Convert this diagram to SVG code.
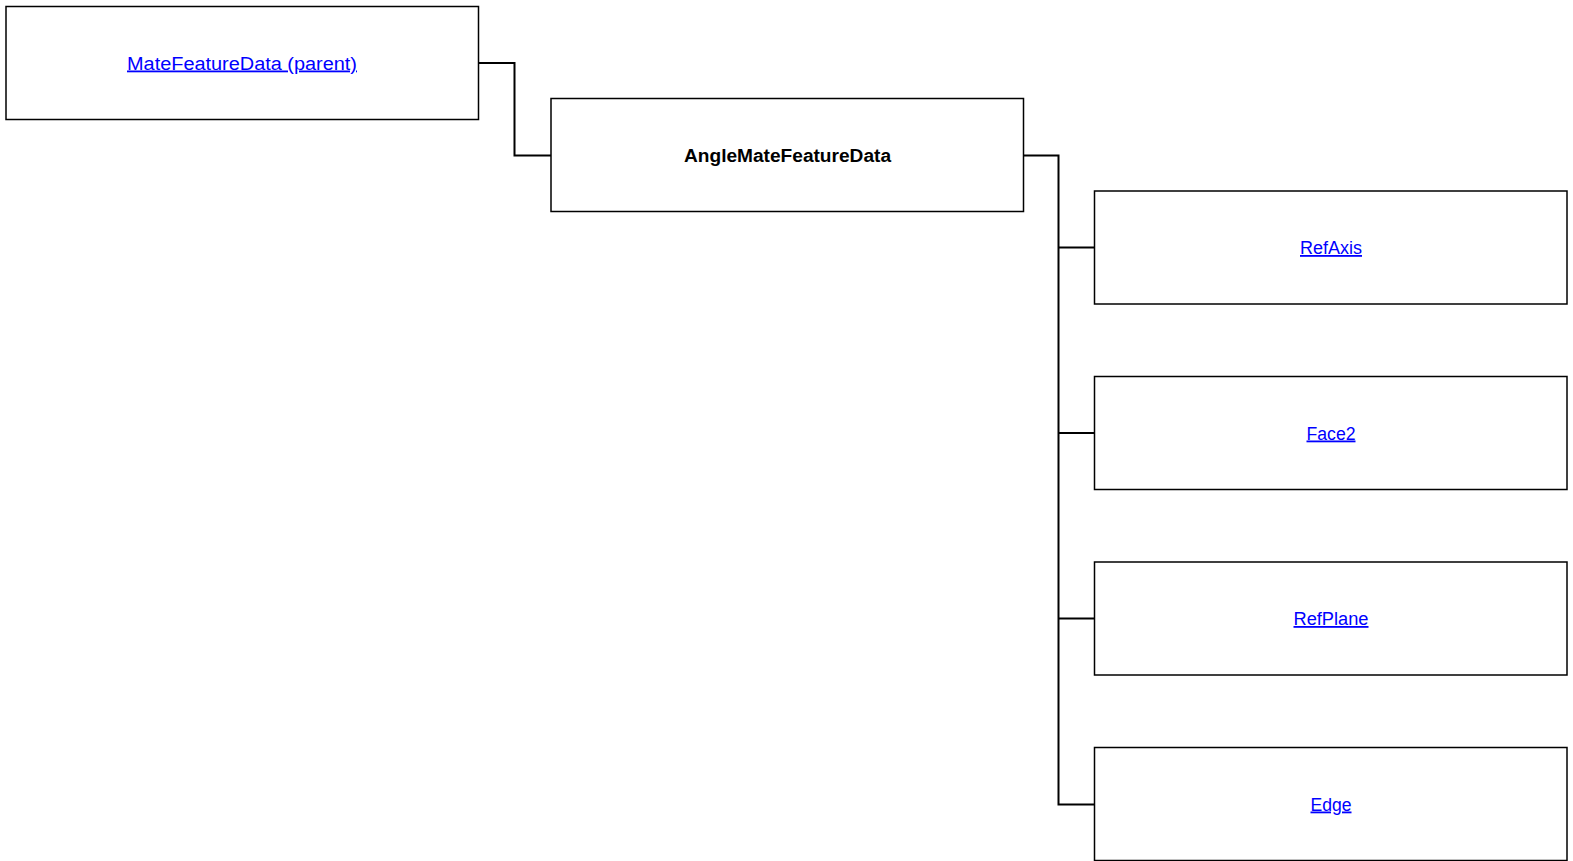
<svg xmlns="http://www.w3.org/2000/svg" width="1573" height="861" viewBox="0 0 1573 861">
<style>
.box{fill:#fff;stroke:#000;stroke-width:1.5}
.lnk{font-family:"Liberation Sans",Arial,sans-serif;font-size:18px;fill:#0000ff;text-decoration:underline;text-anchor:middle}
.ttl{font-family:"Liberation Sans",Arial,sans-serif;font-size:18px;font-weight:bold;fill:#000;text-anchor:middle}
.con{fill:none;stroke:#000;stroke-width:2}
</style>
<rect width="1573" height="861" fill="#fff"/>
<g id="connectors">
<polyline class="con" points="478.5,63 514.5,63 514.5,155.5 551,155.5"/>
<polyline class="con" points="1023,155.5 1058.5,155.5 1058.5,804.5 1094.5,804.5"/>
<line class="con" x1="1058.5" y1="247.5" x2="1094.5" y2="247.5"/>
<line class="con" x1="1058.5" y1="433" x2="1094.5" y2="433"/>
<line class="con" x1="1058.5" y1="618.5" x2="1094.5" y2="618.5"/>
</g>
<g id="node-parent">
<rect class="box" x="6" y="6.5" width="472.5" height="113"/>
<text class="lnk" x="242" y="69.5" textLength="230" lengthAdjust="spacingAndGlyphs">MateFeatureData (parent)</text>
</g>
<g id="node-main">
<rect class="box" x="551" y="98.5" width="472.5" height="113"/>
<text class="ttl" x="787.5" y="161.5" textLength="207" lengthAdjust="spacingAndGlyphs">AngleMateFeatureData</text>
</g>
<g id="node-refaxis">
<rect class="box" x="1094.5" y="191" width="472.5" height="113"/>
<text class="lnk" x="1331" y="254" textLength="62" lengthAdjust="spacingAndGlyphs">RefAxis</text>
</g>
<g id="node-face2">
<rect class="box" x="1094.5" y="376.5" width="472.5" height="113"/>
<text class="lnk" x="1331" y="439.5" textLength="49" lengthAdjust="spacingAndGlyphs">Face2</text>
</g>
<g id="node-refplane">
<rect class="box" x="1094.5" y="562" width="472.5" height="113"/>
<text class="lnk" x="1331" y="625" textLength="75" lengthAdjust="spacingAndGlyphs">RefPlane</text>
</g>
<g id="node-edge">
<rect class="box" x="1094.5" y="747.5" width="472.5" height="113"/>
<text class="lnk" x="1331" y="810.5" textLength="41" lengthAdjust="spacingAndGlyphs">Edge</text>
</g>
</svg>
